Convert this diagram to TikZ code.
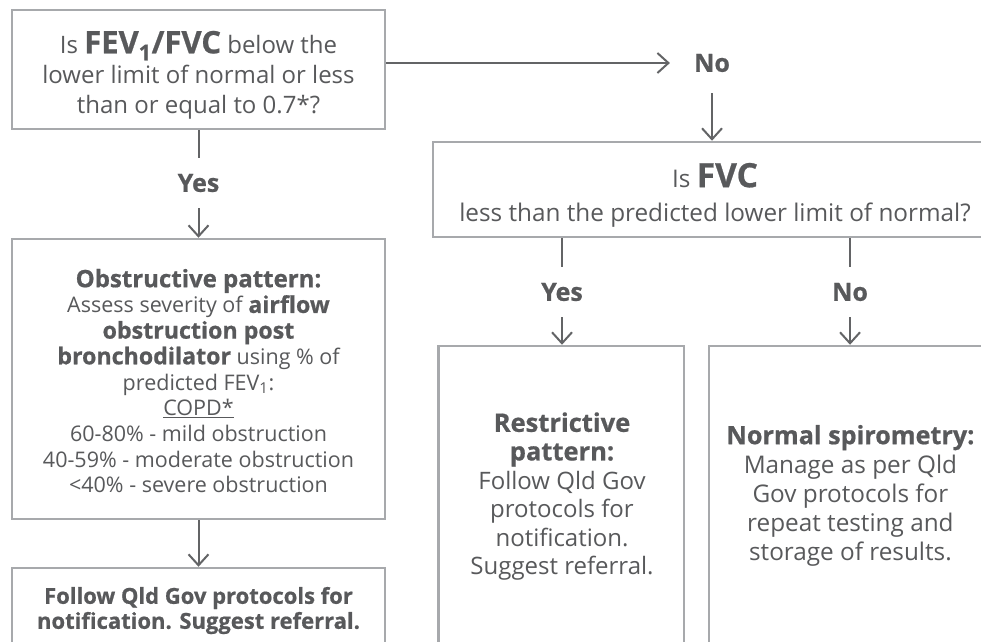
\documentclass[tikz,border=0pt]{standalone}
\usepackage{fontspec}
\setmainfont{Open Sans}[BoldFeatures={FakeBold=0.7}]
\usetikzlibrary{arrows.meta}
\definecolor{textc}{HTML}{58595B}
\definecolor{boxc}{HTML}{A7A9AC}
\definecolor{arrc}{HTML}{636466}
\newcommand\bsz[3]{{\bfseries\fontsize{#1}{#2}\selectfont #3}}
\tikzset{
  txt/.style={text=textc, align=center, inner sep=0pt},
  box/.style={draw=boxc, line width=2.5pt, inner sep=0pt, fill=white},
  lab/.style={text=textc, font=\bfseries\fontsize{25}{28}\selectfont, minimum height=50pt, inner sep=0pt},
  arr/.style={draw=arrc, line width=2pt, -{Straight Barb[length=11pt,width=20pt]}},
  ln/.style={draw=arrc, line width=2pt}
}
\begin{document}
\begin{tikzpicture}[x=1pt,y=-1pt]
\useasboundingbox (0,0) rectangle (981,641);
\clip (0,0) rectangle (981,641);
\fill[white] (0,0) rectangle (981,641);
% boxes
\node[box, minimum width=373pt, minimum height=119pt] (top) at (198.5,69.5) {};
\node[box, minimum width=567pt, minimum height=95pt] (q2) at (716.5,189.5) {};
\node[box, minimum width=373pt, minimum height=280pt] (obs) at (198.5,379) {};
\node[box, minimum width=373pt, minimum height=140pt] (bot) at (198.5,638) {};
\node[box, minimum width=245.5pt, minimum height=355pt] (res) at (561.3,523.5) {};
\node[box, minimum width=300pt, minimum height=355pt] (nor) at (859,523.5) {};
% texts
\node[txt, font={\fontsize{24}{30}\selectfont\lineskiplimit=-50pt}] (toptxt) at (198.5,75)
  {Is \bsz{31}{30}{FEV\textsubscript{1}/FVC} below the\\lower limit of normal or less\\than or equal to 0.7*?};
\node[txt, font={\fontsize{24.3}{34}\selectfont\lineskiplimit=-50pt}] (q2txt) at (715,195)
  {Is \bsz{33.5}{34}{FVC}\\less than the predicted lower limit of normal?};
\node[txt, font={\fontsize{21.5}{25.7}\selectfont\lineskiplimit=-50pt}] (obstxt) at (198.5,381)
  {\bsz{24}{25.7}{Obstructive pattern:}\\Assess severity of \bsz{23.2}{25.7}{airflow}\\\bsz{23.2}{25.7}{obstruction post}\\\bsz{23.2}{25.7}{bronchodilator} using \% of\\predicted FEV\textsubscript{1}:\\\underline{COPD*}\\60-80\% - mild obstruction\\40-59\% - moderate obstruction\\<40\% - severe obstruction};
\node[txt, font={\bfseries\fontsize{22}{25}\selectfont\lineskiplimit=-50pt}] (bottxt) at (198.5,610.5)
  {Follow Qld Gov protocols for\\notification. Suggest referral.};
\node[txt, font={\fontsize{24}{28.6}\selectfont\lineskiplimit=-50pt}] (restxt) at (562,496.5)
  {\bsz{25.5}{28.6}{Restrictive}\\\bsz{25.5}{28.6}{pattern:}\\Follow Qld Gov\\protocols for\\notification.\\Suggest referral.};
\node[txt, font={\fontsize{24.3}{29}\selectfont\lineskiplimit=-50pt}] (nortxt) at (850.4,495.5)
  {\bsz{25.2}{29}{Normal spirometry:}\\Manage as per Qld\\Gov protocols for\\repeat testing and\\storage of results.};
% labels
\node[lab] (no1) at (712,63) {No};
\node[lab] (yes1) at (198.5,183) {Yes};
\node[lab] (yes2) at (562,292) {Yes};
\node[lab] (no2) at (850,292) {No};
% connectors
\draw[arr, shorten >=24pt] (top.east |- no1.west) -- (no1.west);
\draw[arr] ([yshift=-5pt]no1.south) -- (no1.south |- q2.north);
\draw[ln] (top.south) -- (yes1.north);
\draw[arr] (yes1.south) -- (obs.north);
\draw[arr] (obs.south) -- (bot.north);
\draw[ln] (yes2.north |- q2.south) -- (yes2.north);
\draw[arr] (yes2.south) -- (yes2.south |- res.north);
\draw[ln] (no2.north |- q2.south) -- (no2.north);
\draw[arr] (no2.south) -- (no2.south |- nor.north);
\end{tikzpicture}
\end{document}
